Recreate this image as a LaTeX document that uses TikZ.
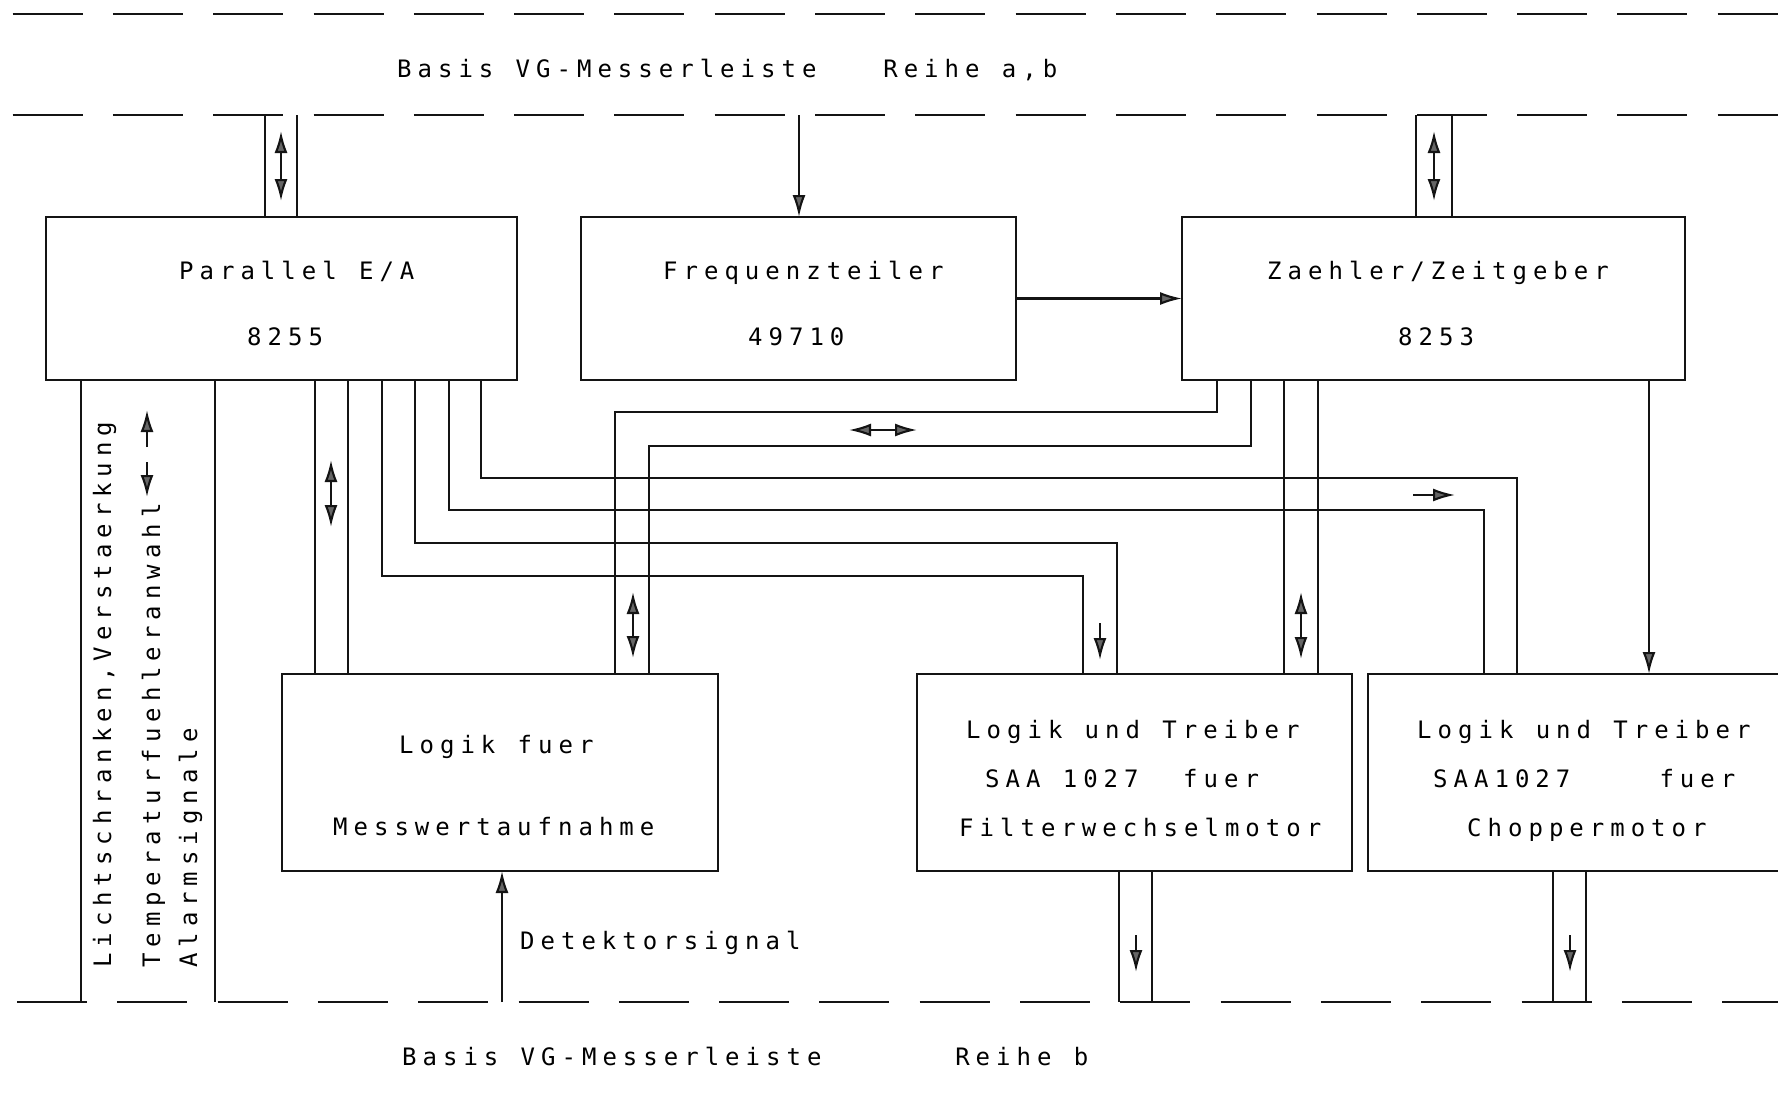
\documentclass[tikz,border=0pt]{standalone}
\usepackage{fontspec}
\newfontfamily\plotfont[LetterSpace=25]{DejaVu Sans Mono}
\newcommand\ws{\hspace*{22.3pt}}
\usetikzlibrary{arrows.meta}
\begin{document}
\begin{tikzpicture}[x=1pt,y=-1pt,
  ln/.style={line width=2.1pt, draw=black!92},
  box/.style={ln, rectangle, inner sep=0pt, outer sep=0pt},
  arr/.style={ln, -{Latex[length=22pt,width=13pt,fill=black!60]}},
  darr/.style={ln, {Latex[length=22pt,width=13pt,fill=black!60]}-{Latex[length=22pt,width=13pt,fill=black!60]}},
  txt/.style={font=\plotfont\fontsize{24}{28}\selectfont, text=black, inner sep=0pt, anchor=base west},
  dashline/.style={ln, dash pattern=on 70pt off 30.3pt}]
\useasboundingbox (0,0) rectangle (1778,1100);
\fill[white] (0,0) rectangle (1778,1100);
\clip (0,0) rectangle (1778,1100);
% bus rails
\coordinate (top1) at (0,14);
\coordinate (top2) at (0,115);
\coordinate (bot) at (0,1002);
\draw[dashline] (12.6,0 |- top1) -- (1800,0 |- top1);
\draw[dashline] (12.6,0 |- top2) -- (1800,0 |- top2);
\draw[dashline] (17,0 |- bot) -- (1800,0 |- bot);
% boxes
\node[box, minimum width=471pt, minimum height=163pt] (par) at (281.5,298.5) {};
\node[box, minimum width=435pt, minimum height=163pt] (freq) at (798.5,298.5) {};
\node[box, minimum width=503pt, minimum height=163pt] (zae) at (1433.5,298.5) {};
\node[box, minimum width=436pt, minimum height=197pt] (mw) at (500,772.5) {};
\node[box, minimum width=435pt, minimum height=197pt] (filt) at (1134.5,772.5) {};
\node[box, minimum width=444pt, minimum height=197pt] (chop) at (1590,772.5) {};
% texts
\node[txt] (th) at (397,77.5) {Basis\ws VG-Messerleiste\ws\ws\ws Reihe\ws a,b};
\node[txt] (tf) at (402,1065) {Basis\ws VG-Messerleiste\ws\ws\ws\ws\ws\ws Reihe\ws b};
\node[txt] (tpar1) at (179,279) {Parallel\ws E/A};
\node[txt] (tpar2) at (247,345) {8255};
\node[txt] (tfr1) at (663,279) {Frequenzteiler};
\node[txt] (tfr2) at (748,345) {49710};
\node[txt] (tza1) at (1267,279) {Zaehler/Zeitgeber};
\node[txt] (tza2) at (1398,345) {8253};
\node[txt] (tmw1) at (399,753) {Logik\ws fuer};
\node[txt] (tmw2) at (333,835) {Messwertaufnahme};
\node[txt] (tfi1) at (966,738) {Logik\ws und\ws Treiber};
\node[txt] (tfi2) at (985,787) {SAA\ws 1027\ws\ws fuer};
\node[txt] (tfi3) at (959,836) {Filterwechselmotor};
\node[txt] (tch1) at (1417,738) {Logik\ws und\ws Treiber};
\node[txt] (tch2) at (1433,787) {SAA1027\ws\ws\ws\ws fuer};
\node[txt] (tch3) at (1467,836) {Choppermotor};
\node[txt] (tdet) at (520,949) {Detektorsignal};
\node[txt, rotate=90] (tl1) at (111,968) {Lichtschranken,Verstaerkung};
\node[txt, rotate=90] (tl2) at (160,968) {Temperaturfuehleranwahl};
\node[txt, rotate=90] (tl3) at (197,968) {Alarmsignale};
% connections to top rail
\draw[ln] (265,0 |- top2) -- (265,0 |- par.north);
\draw[ln] (297,0 |- top2) -- (297,0 |- par.north);
\draw[darr] (281,131) -- (281,201);
\draw[arr] (799,0 |- top2) -- (799,0 |- freq.north);
\draw[ln] (1416,0 |- top2) -- (1416,0 |- zae.north);
\draw[ln] (1452,0 |- top2) -- (1452,0 |- zae.north);
\draw[darr] (1434,131) -- (1434,201);
\draw[arr] (freq.east) -- (zae.west);
% left bus
\draw[ln] (81,0 |- par.south) -- (81,0 |- bot);
\draw[ln] (215,0 |- par.south) -- (215,0 |- bot);
\draw[arr] (147,447) -- (147,410);
\draw[arr] (147,462) -- (147,497);
% PAR - MW
\draw[ln] (315,0 |- par.south) -- (315,0 |- mw.north);
\draw[ln] (348,0 |- par.south) -- (348,0 |- mw.north);
\draw[darr] (331,460) -- (331,527);
% PAR - motor drivers
\draw[ln] (382,0 |- par.south) |- (1083,576) -- (1083,0 |- filt.north);
\draw[ln] (415,0 |- par.south) |- (1117,543) -- (1117,0 |- filt.north);
\draw[arr] (1100,623) -- (1100,660);
\draw[ln] (449,0 |- par.south) |- (1484,510) -- (1484,0 |- chop.north);
\draw[ln] (481,0 |- par.south) |- (1517,478) -- (1517,0 |- chop.north);
\draw[arr] (1413,495) -- (1455,495);
% ZAE - MW
\draw[ln] (1217,0 |- zae.south) |- (615,412) -- (615,0 |- mw.north);
\draw[ln] (1251,0 |- zae.south) |- (649,446) -- (649,0 |- mw.north);
\draw[darr] (849,430) -- (917,430);
\draw[darr] (633,592) -- (633,658);
% ZAE - FILT
\draw[ln] (1284,0 |- zae.south) -- (1284,0 |- filt.north);
\draw[ln] (1318,0 |- zae.south) -- (1318,0 |- filt.north);
\draw[darr] (1301,592) -- (1301,659);
% ZAE - CHOP
\draw[arr] (1649,0 |- zae.south) -- (1649,0 |- chop.north);
% outputs to bottom rail
\draw[ln] (1119,0 |- filt.south) -- (1119,0 |- bot);
\draw[ln] (1152,0 |- filt.south) -- (1152,0 |- bot);
\draw[arr] (1136,935) -- (1136,972);
\draw[ln] (1553,0 |- chop.south) -- (1553,0 |- bot);
\draw[ln] (1586,0 |- chop.south) -- (1586,0 |- bot);
\draw[arr] (1570,935) -- (1570,972);
% detector
\draw[arr] (502,0 |- bot) -- (502,0 |- mw.south);
\end{tikzpicture}
\end{document}
